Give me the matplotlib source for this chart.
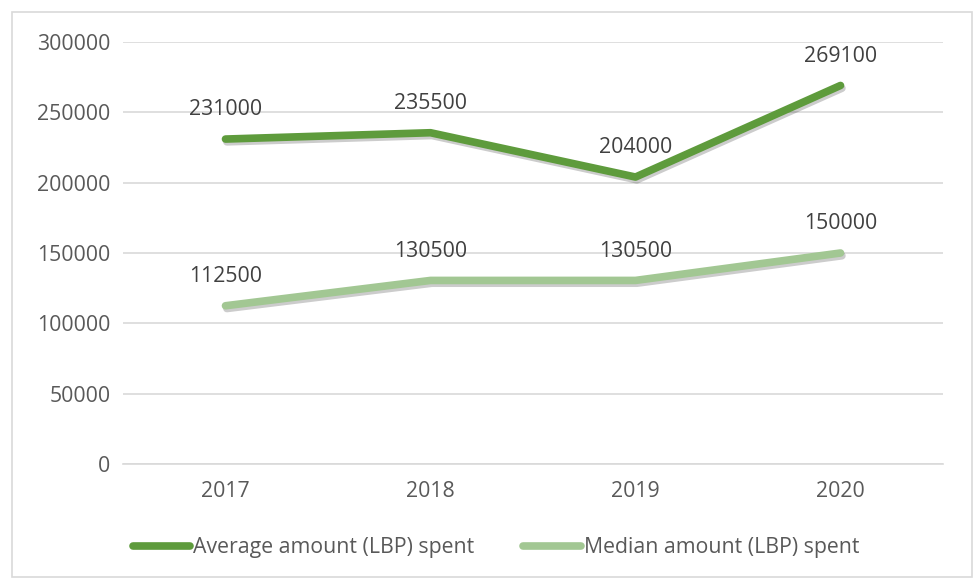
import matplotlib.pyplot as plt
import matplotlib.patheffects as pe
from matplotlib.patches import Rectangle

years = ["2017", "2018", "2019", "2020"]
average_spent = [231000, 235500, 204000, 269100]
median_spent = [112500, 130500, 130500, 150000]
yticks = [0, 50000, 100000, 150000, 200000, 250000, 300000]

plt.rcParams['font.family'] = ['Open Sans', 'DejaVu Sans']

fig = plt.figure(figsize=(9.76, 5.81), dpi=100)
ax = fig.add_axes([123 / 976, 1 - 464 / 581, 820 / 976, 422 / 581])

# outer chart border
fig.patches.append(Rectangle((12 / 976, 4 / 581), 960 / 976, 565 / 581,
                             transform=fig.transFigure, fill=False,
                             edgecolor="#d9d9d9", linewidth=1.2))

x = list(range(len(years)))
shadow = [pe.SimpleLineShadow(offset=(1.0, -2.0), alpha=0.2, shadow_color="black"), pe.Normal()]
ax.plot(x, average_spent, color="#5e9b3c", linewidth=5.5, solid_capstyle="round",
        label="Average amount (LBP) spent", path_effects=shadow, zorder=3)
ax.plot(x, median_spent, color="#a2c793", linewidth=5.5, solid_capstyle="round",
        label="Median amount (LBP) spent", path_effects=shadow, zorder=3)

for xi, v in zip(x, average_spent):
    ax.annotate(str(v), (xi, v), xytext=(0, 21), textcoords="offset points",
                ha="center", va="center", fontsize=15.3, color="#404040")
for xi, v in zip(x, median_spent):
    ax.annotate(str(v), (xi, v), xytext=(0, 21), textcoords="offset points",
                ha="center", va="center", fontsize=15.3, color="#404040")

ax.set_xlim(-0.5, 3.5)
ax.set_ylim(0, 300000)
ax.set_yticks(yticks)
ax.set_yticklabels([str(t) for t in yticks])
ax.set_xticks(x)
ax.set_xticklabels(years)
ax.tick_params(axis="both", length=0, labelsize=15.3, labelcolor="#595959")
ax.tick_params(axis="y", pad=9)
ax.tick_params(axis="x", pad=12)
ax.grid(axis="y", color="#d9d9d9", linewidth=1.2)
ax.set_axisbelow(True)
for s in ["top", "right", "left"]:
    ax.spines[s].set_visible(False)
ax.spines["bottom"].set_color("#d9d9d9")
ax.spines["bottom"].set_linewidth(1.2)

leg = fig.legend(loc="center", bbox_to_anchor=(496 / 976, 1 - 548 / 581), ncol=2,
                 frameon=False, fontsize=15.3, handlelength=2.7, handletextpad=0.15,
                 columnspacing=2.3, labelcolor="#595959")
for h in leg.get_lines():
    h.set_path_effects([])

fig.savefig("out.png", dpi=100)
